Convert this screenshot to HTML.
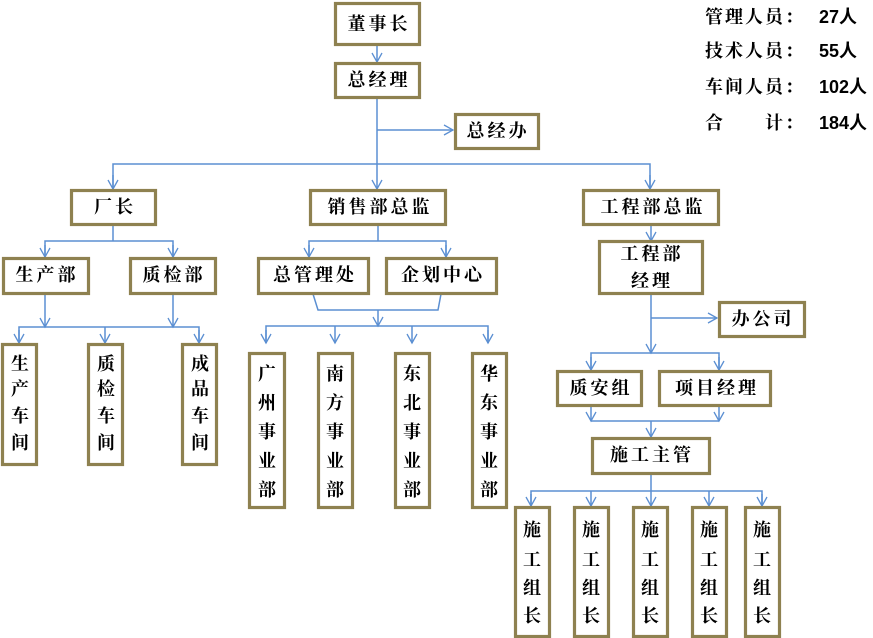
<!DOCTYPE html>
<html><head><meta charset="utf-8"><style>
html,body{margin:0;padding:0;background:#fff;}
svg{display:block;}
text{font-family:"Liberation Serif","Noto Serif CJK SC",serif;font-weight:bold;font-size:18px;fill:#000;}
.s text{font-family:"Liberation Sans","Noto Sans CJK SC",sans-serif;font-weight:normal;font-size:17px;}
</style></head><body>
<svg width="873" height="638" viewBox="0 0 873 638" xmlns="http://www.w3.org/2000/svg">
<defs>
<marker id="a" markerWidth="12" markerHeight="12" refX="10" refY="6" orient="auto" markerUnits="userSpaceOnUse">
<path d="M1,1 L10,6 L1,11" fill="none" stroke="#5b8fd2" stroke-width="1.3"/>
</marker>
</defs>
<g fill="none" stroke="#5b8fd2" stroke-width="1.5">
<line x1="377" y1="45" x2="377" y2="62" marker-end="url(#a)"/>
<line x1="377" y1="97" x2="377" y2="189" marker-end="url(#a)"/>
<line x1="377" y1="130" x2="453" y2="130" marker-end="url(#a)"/>
<polyline points="113,189 113,164 650,164 650,189" />
<line x1="113" y1="175" x2="113" y2="189" marker-end="url(#a)"/>
<line x1="650" y1="175" x2="650" y2="189" marker-end="url(#a)"/>
<!-- 厂长 -->
<line x1="113" y1="224" x2="113" y2="241"/>
<polyline points="45,257 45,241 173,241 173,257"/>
<line x1="45" y1="245" x2="45" y2="257" marker-end="url(#a)"/>
<line x1="173" y1="245" x2="173" y2="257" marker-end="url(#a)"/>
<line x1="45" y1="294" x2="45" y2="327" marker-end="url(#a)"/>
<line x1="173" y1="294" x2="173" y2="327" marker-end="url(#a)"/>
<polyline points="19,343 19,327 199,327 199,343"/>
<line x1="19" y1="330" x2="19" y2="343" marker-end="url(#a)"/>
<line x1="105" y1="327" x2="105" y2="343" marker-end="url(#a)"/>
<line x1="199" y1="330" x2="199" y2="343" marker-end="url(#a)"/>
<!-- 销售 -->
<line x1="378" y1="225" x2="378" y2="241"/>
<polyline points="309,257 309,241 446,241 446,257"/>
<line x1="309" y1="245" x2="309" y2="257" marker-end="url(#a)"/>
<line x1="446" y1="245" x2="446" y2="257" marker-end="url(#a)"/>
<polyline points="313,294 318,310 438,310 441,294"/>
<line x1="378" y1="310" x2="378" y2="326" marker-end="url(#a)"/>
<polyline points="266,343 266,326 488,326 488,343"/>
<line x1="266" y1="330" x2="266" y2="343" marker-end="url(#a)"/>
<line x1="335" y1="326" x2="335" y2="343" marker-end="url(#a)"/>
<line x1="412" y1="326" x2="412" y2="343" marker-end="url(#a)"/>
<line x1="488" y1="330" x2="488" y2="343" marker-end="url(#a)"/>
<!-- 工程 -->
<line x1="651" y1="224" x2="651" y2="241" marker-end="url(#a)"/>
<line x1="651" y1="294" x2="651" y2="353" marker-end="url(#a)"/>
<line x1="651" y1="318" x2="717" y2="318" marker-end="url(#a)"/>
<polyline points="591,370 591,353 719,353 719,370"/>
<line x1="591" y1="357" x2="591" y2="370" marker-end="url(#a)"/>
<line x1="719" y1="357" x2="719" y2="370" marker-end="url(#a)"/>
<line x1="591" y1="405" x2="591" y2="421" marker-end="url(#a)"/>
<line x1="719" y1="405" x2="719" y2="421" marker-end="url(#a)"/>
<line x1="591" y1="421" x2="719" y2="421"/>
<line x1="651" y1="421" x2="651" y2="437" marker-end="url(#a)"/>
<line x1="651" y1="473" x2="651" y2="506" marker-end="url(#a)"/>
<polyline points="531,506 531,491 762,491 762,506"/>
<line x1="531" y1="494" x2="531" y2="506" marker-end="url(#a)"/>
<line x1="591" y1="491" x2="591" y2="506" marker-end="url(#a)"/>
<line x1="709" y1="491" x2="709" y2="506" marker-end="url(#a)"/>
<line x1="762" y1="494" x2="762" y2="506" marker-end="url(#a)"/>
</g>
<g fill="#fff" stroke="#8e8150" stroke-width="3.2">
<rect x="335.5" y="3.5" width="84" height="41"/>
<rect x="335.5" y="63.5" width="84" height="34"/>
<rect x="455.5" y="114.5" width="83" height="34"/>
<rect x="71.5" y="190.5" width="84" height="34"/>
<rect x="310.5" y="190.5" width="135" height="34"/>
<rect x="583.5" y="190.5" width="135" height="34"/>
<rect x="3.5" y="258.5" width="85" height="35"/>
<rect x="130.5" y="258.5" width="85" height="35"/>
<rect x="258.5" y="258.5" width="110" height="35"/>
<rect x="386.5" y="258.5" width="110" height="35"/>
<rect x="599.5" y="241.5" width="103" height="52"/>
<rect x="719.5" y="302.5" width="85" height="34"/>
<rect x="557.5" y="371.5" width="84" height="34"/>
<rect x="659.5" y="371.5" width="111" height="34"/>
<rect x="592.5" y="438.5" width="117" height="35"/>
<rect x="2.5" y="344.5" width="34" height="120"/>
<rect x="88.5" y="344.5" width="34" height="120"/>
<rect x="182.5" y="344.5" width="34" height="120"/>
<rect x="249.5" y="353.5" width="35" height="154"/>
<rect x="318.5" y="353.5" width="34" height="154"/>
<rect x="395.5" y="353.5" width="34" height="154"/>
<rect x="472.5" y="353.5" width="34" height="154"/>
<rect x="515.5" y="507.5" width="34" height="129"/>
<rect x="574.5" y="507.5" width="34" height="129"/>
<rect x="633.5" y="507.5" width="34" height="129"/>
<rect x="692.5" y="507.5" width="34" height="129"/>
<rect x="745.5" y="507.5" width="34" height="129"/>
</g>
<g text-anchor="middle" dominant-baseline="central" letter-spacing="3">
<text x="379" y="24">董事长</text>
<text x="379" y="80">总经理</text>
<text x="498" y="131">总经办</text>
<text x="115" y="207">厂长</text>
<text x="380" y="207">销售部总监</text>
<text x="653" y="207">工程部总监</text>
<text x="47" y="275">生产部</text>
<text x="174" y="275">质检部</text>
<text x="315" y="275">总管理处</text>
<text x="443" y="275">企划中心</text>
<text x="652" y="254">工程部</text>
<text x="652" y="281">经理</text>
<text x="763" y="319">办公司</text>
<text x="601" y="388">质安组</text>
<text x="717" y="388">项目经理</text>
<text x="652" y="455">施工主管</text>
</g>
<g text-anchor="middle" dominant-baseline="central">
<text x="20" y="364">生</text><text x="20" y="389">产</text><text x="20" y="416">车</text><text x="20" y="443">间</text>
<text x="106" y="364">质</text><text x="106" y="389">检</text><text x="106" y="416">车</text><text x="106" y="443">间</text>
<text x="200" y="364">成</text><text x="200" y="389">品</text><text x="200" y="416">车</text><text x="200" y="443">间</text>
<text x="267" y="374">广</text><text x="267" y="403">州</text><text x="267" y="432">事</text><text x="267" y="461">业</text><text x="267" y="490">部</text>
<text x="335" y="374">南</text><text x="335" y="403">方</text><text x="335" y="432">事</text><text x="335" y="461">业</text><text x="335" y="490">部</text>
<text x="412" y="374">东</text><text x="412" y="403">北</text><text x="412" y="432">事</text><text x="412" y="461">业</text><text x="412" y="490">部</text>
<text x="489" y="374">华</text><text x="489" y="403">东</text><text x="489" y="432">事</text><text x="489" y="461">业</text><text x="489" y="490">部</text>
<text x="532" y="530">施</text><text x="532" y="560">工</text><text x="532" y="588">组</text><text x="532" y="616">长</text>
<text x="591" y="530">施</text><text x="591" y="560">工</text><text x="591" y="588">组</text><text x="591" y="616">长</text>
<text x="650" y="530">施</text><text x="650" y="560">工</text><text x="650" y="588">组</text><text x="650" y="616">长</text>
<text x="709" y="530">施</text><text x="709" y="560">工</text><text x="709" y="588">组</text><text x="709" y="616">长</text>
<text x="762" y="530">施</text><text x="762" y="560">工</text><text x="762" y="588">组</text><text x="762" y="616">长</text>
</g>
<g dominant-baseline="central">
<text x="705" y="17" letter-spacing="2">管理人员：</text><text x="819" y="17" style="font-family:'Liberation Sans','Noto Sans CJK SC',sans-serif">27人</text>
<text x="705" y="51" letter-spacing="2">技术人员：</text><text x="819" y="51" style="font-family:'Liberation Sans','Noto Sans CJK SC',sans-serif">55人</text>
<text x="705" y="87" letter-spacing="2">车间人员：</text><text x="819" y="87" style="font-family:'Liberation Sans','Noto Sans CJK SC',sans-serif">102人</text>
<text x="705" y="123">合</text><text x="765" y="123" letter-spacing="2">计：</text><text x="819" y="123" style="font-family:'Liberation Sans','Noto Sans CJK SC',sans-serif">184人</text>
</g>
</svg>
</body></html>
